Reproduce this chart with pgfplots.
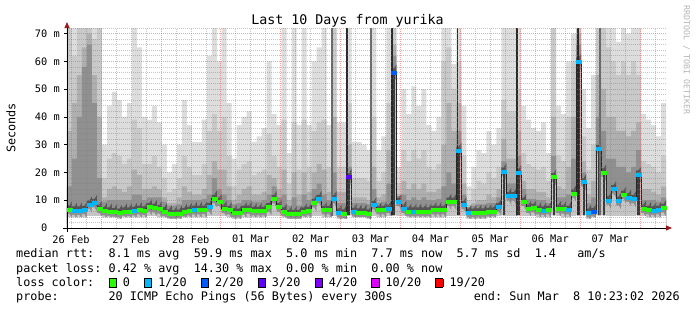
\documentclass[border=0pt]{standalone}
\usepackage{fontspec}
\setmainfont{DejaVu Sans Mono}
\usepackage{pgfplots}
\pgfplotsset{compat=1.18}
\usepackage{pgfplotstable}
\usetikzlibrary{arrows.meta}
\definecolor{lgreen}{HTML}{26FF00}
\definecolor{lcyan}{HTML}{00B8FF}
\definecolor{lblue}{HTML}{0059FF}
\definecolor{lpurple}{HTML}{5E00FF}
\definecolor{lviolet}{HTML}{7E00FF}
\definecolor{lmagenta}{HTML}{DD00FF}
\definecolor{lred}{HTML}{FF0000}
\definecolor{arrowred}{HTML}{9A1A1A}
\definecolor{gridred}{HTML}{F06060}
\definecolor{cA}{HTML}{DDDDDD}
\definecolor{cB}{HTML}{C9C9C9}
\definecolor{cC}{HTML}{AFAFAF}
\definecolor{cD}{HTML}{909090}
\definecolor{cDB}{HTML}{555555}
\definecolor{cB1}{HTML}{8F8F8F}
\definecolor{cB2}{HTML}{C5C5C5}
\definecolor{cSB}{HTML}{3A3A3A}
\definecolor{cSpkA}{HTML}{2A2A2A}
\definecolor{cSpkB}{HTML}{6A6A6A}
\definecolor{wmgray}{HTML}{B4B4B4}
\newcommand\legfont{\fontsize{11.8bp}{14bp}\selectfont}
\newcommand\titfont{\fontsize{13.3bp}{16bp}\selectfont}
\newcommand\axfont{\fontsize{10.3bp}{12bp}\selectfont}
\newcommand\wmfont{\fontsize{8.3bp}{10bp}\selectfont}
\newcommand\lbox[1]{\makebox[1.204em][l]{\setlength\fboxsep{0pt}\setlength\fboxrule{0.8bp}\raisebox{-0.5bp}{\fcolorbox{black}{#1}{\rule{0pt}{7.5bp}\rule{6.5bp}{0pt}}}}}

\pgfplotstableread{
i L1 L2 L3 L4 med lo sb loss
-1 72 72 35 15 6.7 3.8 0 g
0 72 72 35 15 6.7 3.8 0 g
1 72 62 45 25 6.3 3.8 0 c
2 72 72 55 40 6.3 3.8 0 c
3 72 72 65 58 6.5 3.8 0 c
4 72 72 70 66 8.5 4.3 0 c
5 72 68 55 45 9.0 4.3 0 c
6 72 72 40 18 7.0 4.3 0 g
7 30 18 11 9.5 6.2 3.8 0 g
8 44 25 14 10 6.0 3.8 0 g
9 49 27 15 10 5.7 3.8 0 g
10 46 26 14 10 5.5 3.3 0 g
11 40 23 13 10 6.0 3.8 0 g
12 45 25 15 10 6.0 3.8 0 g
13 72 39 21 12 6.2 3.8 0 c
14 65 36 19 12 6.5 3.8 0 g
15 40 23 14 10 6.3 3.8 0 g
16 39 23 14 11 7.5 4.3 0 g
17 44 26 15 11 7.2 4.3 0 g
18 38 22 14 11 6.8 3.8 0 g
19 30 18 11 9.5 6.0 3.8 0 g
20 20 13 9 8 5.3 3.3 0 g
21 23 14 9 8 5.0 3.3 0 g
22 30 18 11 8.5 5.2 3.3 0 g
23 46 26 15 10 5.8 3.8 0 g
24 37 22 13 10 6.2 3.8 0 g
25 31 19 12 10 6.5 3.8 0 c
26 31 19 12 10 6.5 3.8 0 g
27 39 23 14 10.5 6.6 3.8 0 g
28 62 35 19 12 7.5 4.3 0 c
29 72 41 24 18 10.5 4.3 0 g
30 60 35 21 14 9.5 4.3 0 g
31 72 40 21 12 7.0 4.3 0 g
32 45 26 15 10 6.5 3.8 0 g
33 25 15 10 8.5 5.5 3.3 0 g
34 37 21 12 9 5.5 3.3 0 g
35 40 23 14 10 6.5 3.8 0 g
36 42 24 15 10 6.7 3.8 0 g
37 31 19 12 9.5 6.2 3.8 0 g
38 33 20 12 9.5 6.2 3.8 0 g
39 36 21 13 10 6.2 3.8 0 g
40 60 34 19 12 7.5 4.3 0 g
41 41 26 18 15 10.5 4.3 0 g
42 37 22 14 11 7.5 4.3 0 g
43 72 39 21 12 6.0 3.8 0 g
44 27 16 10 8 5.0 3.3 0 g
45 72 38 20 11 5.0 3.3 0 g
46 37 21 12 8 5.0 3.3 0 g
47 72 39 20 12 6.0 3.8 0 g
48 37 22 13 10 6.2 3.8 0 g
49 60 35 20 14 9.0 4.3 0 g
50 65 38 23 16 10.5 4.3 0 c
51 72 39 21 12 6.5 3.8 0 g
52 37 22 13 10 6.5 3.8 0 g
53 72 72 40 20 10.5 4.3 0 c
54 38 22 13 9 5.5 3.3 0 c
55 38 22 13 9 5.3 3.3 0 g
56 72 45 30 22 18.3 4.5 18.3 p
57 31 18 11 9 5.8 3.8 0 c
58 31 18 11 9 5.6 3.8 0 g
59 30 18 11 9 5.6 3.8 0 g
60 28 17 10 8.5 5.3 3.3 0 g
61 72 40 22 14 8.3 4.3 0 c
62 28 17 11 9 6.5 3.8 0 g
63 33 20 12 9.5 6.5 3.8 0 g
64 72 45 28 16 7.0 4.3 0 c
65 72 72 66 62 56 4.5 56 b
66 22 16 12 11.5 9.5 4.3 0 c
67 50 28 17 12 7.0 4.3 0 c
68 41 24 14 10 6.0 3.8 0 g
69 51 28 16 11 6.0 3.8 0 c
70 44 25 14 10 6.0 3.8 0 g
71 50 28 16 11 6.0 3.8 0 g
72 37 22 13 10 6.0 3.8 0 g
73 35 21 13 10 6.5 3.8 0 g
74 40 23 14 10.5 6.5 3.8 0 g
75 72 60 30 15 6.5 3.8 0 g
76 72 65 45 20 9.5 4.3 0 g
77 59 50 35 16 9.5 4.3 0 g
78 72 60 45 35 27.9 4.5 27.9 c
79 44 26 16 12 8.3 4.3 0 c
80 15 10 7.5 7.5 5.5 3.3 0 c
81 22 14 9 8 5.5 3.3 0 g
82 28 17 10 8.5 5.6 3.3 0 g
83 27 16 10 8.5 5.6 3.3 0 g
84 35 20 12 9 5.8 3.8 0 g
85 30 18 11 9 6.0 3.8 0 g
86 36 22 14 11 7.5 4.3 0 c
87 72 46 32 24 20.4 4.5 20.4 c
88 72 42 25 16 11.5 4.3 0 c
89 72 42 25 16 11.5 4.3 0 c
90 72 50 35 26 19.9 4.5 19.9 c
91 44 27 17 14 9.5 4.3 0 g
92 39 23 14 10.5 7.0 4.3 0 g
93 36 22 14 10.5 7.2 4.3 0 g
94 35 21 13 10 6.5 3.8 0 g
95 38 22 13 10 6.3 3.8 0 c
96 27 17 11 9 6.5 3.8 0 g
97 72 72 40 26 18.3 4.5 18.3 g
98 44 26 15 11 7.0 4.3 0 g
99 41 24 14 11 6.8 3.8 0 g
100 60 40 22 12 6.5 3.8 0 c
101 70 60 40 25 12.5 4.3 0 g
102 72 72 70 66 59.9 4.5 59.9 c
103 50 33 24 20 16.5 4.5 16.5 c
104 36 21 12 9 5.5 3.3 0 c
105 55 30 17 11 5.8 3.8 0 b
106 72 72 55 40 28.5 4.5 28.5 c
107 72 72 50 35 20.0 4.5 20 g
108 72 65 40 25 10.0 4.3 0 c
109 72 60 40 25 14.0 4.3 0 c
110 67 55 35 22 9.8 4.3 0 c
111 72 60 35 22 12.0 4.3 0 g
112 70 55 33 20 11.0 4.3 0 c
113 72 60 35 22 10.5 4.3 0 c
114 72 55 38 28 19.3 4.5 19.3 c
115 41 24 14 10 7.0 4.3 0 g
116 39 23 14 10 6.5 3.8 0 g
117 37 22 13 10 6.3 3.8 0 c
118 33 20 12 9.5 6.5 3.8 0 c
119 45 26 15 11 7.2 4.3 0 g
120 45 26 15 11 7.2 4.3 0 g
}\data

\pgfplotstableread{
x top
52.6 72
60.4 72
106.3 72
}\spikesmid

\pgfplotstableread{
x top
55.6 72
64.6 72
77.7 72
89.7 72
101.9 72
}\spikesdark

\begin{document}
\frenchspacing
\begin{tikzpicture}
\useasboundingbox (0,0) rectangle (697bp,310bp);
\begin{axis}[
  at={(67bp,82bp)}, anchor=south west,
  scale only axis, width=599bp, height=200bp,
  xmin=-0.5, xmax=119.5, ymin=0, ymax=72,
  axis lines=left, axis on top,
  x axis line style={black, line width=0.8bp, shorten >=-6bp, shorten <=-4bp, -{Triangle[length=6bp,width=5bp,color=arrowred]}},
  y axis line style={black, line width=0.8bp, shorten >=-6bp, shorten <=-4bp, -{Triangle[length=6bp,width=5bp,color=arrowred]}},
  xtick={0.31,12.31,24.31,36.31,48.31,60.31,72.31,84.31,96.31,108.31},
  xticklabels={26 Feb,27 Feb,28 Feb,01 Mar,02 Mar,03 Mar,04 Mar,05 Mar,06 Mar,07 Mar},
  xtick style={draw=none},
  extra x ticks={6.31,18.31,30.31,42.31,54.31,66.31,78.31,90.31,102.31,114.31},
  extra x tick labels={},
  extra x tick style={grid=major},
  minor xtick={0.31,3.31,9.31,12.31,15.31,21.31,24.31,27.31,33.31,36.31,39.31,45.31,48.31,51.31,57.31,60.31,63.31,69.31,72.31,75.31,81.31,84.31,87.31,93.31,96.31,99.31,105.31,108.31,111.31,117.31},
  ytick={0,10,20,30,40,50,60,70},
  yticklabels={0\hphantom{ m},10 m,20 m,30 m,40 m,50 m,60 m,70 m},
  minor ytick={2,4,6,8,12,14,16,18,22,24,26,28,32,34,36,38,42,44,46,48,52,54,56,58,62,64,66,68,72},
  xmajorgrids=false, ymajorgrids=true, xminorgrids=true, yminorgrids=true,
  major grid style={draw=gridred, opacity=0.6, line width=0.6bp, dash pattern=on 1bp off 1bp},
  minor grid style={draw=gray, opacity=0.45, line width=0.6bp, dash pattern=on 1bp off 1bp},
  ytick style={black, line width=0.6bp},
  ytick align=outside, major tick length=3bp, minor tick length=0bp,
  ticklabel style={font=\axfont},
  xticklabel style={inner sep=0pt, anchor=north, yshift=-5.5bp},
  yticklabel style={inner sep=0pt, anchor=east, xshift=-4bp},
]
\addplot[const plot mark mid, fill=cA, draw=none] table[x=i,y=L1]{\data} \closedcycle;
\addplot[const plot mark mid, fill=cB, draw=none] table[x=i,y=L2]{\data} \closedcycle;
\addplot[const plot mark mid, fill=cC, draw=none] table[x=i,y=L3]{\data} \closedcycle;
\addplot[const plot mark mid, fill=cD, draw=none] table[x=i,y=L4]{\data} \closedcycle;
\addplot[const plot mark mid, fill=cDB, draw=none, yshift=4bp] table[x=i,y=med]{\data} \closedcycle;
\addplot[const plot mark mid, fill=cB1, draw=none, yshift=-1.5bp] table[x=i,y=med]{\data} \closedcycle;
\addplot[const plot mark mid, fill=cB2, draw=none, yshift=-4.5bp] table[x=i,y=med]{\data} \closedcycle;
\addplot[ycomb, draw=cSB, line width=2.2bp] table[x=i,y=sb]{\data};
\addplot[ycomb, draw=cSpkB, line width=1.6bp] table[x=x,y=top]{\spikesmid};
\addplot[ycomb, draw=cSpkA, line width=1.6bp] table[x=x,y=top]{\spikesdark};
\addplot[const plot mark mid, fill=white, draw=none] table[x=i,y=lo]{\data} \closedcycle;
\addplot[const plot mark mid, draw=black!85, line width=0.9bp] table[x=i,y=med]{\data};
\addplot[scatter, only marks, mark=square*, mark size=2.5bp, mark options={yscale=0.6},
  point meta=explicit symbolic, restrict x to domain=0:119,
  scatter/classes={g={lgreen}, c={lcyan}, b={lblue}, p={lpurple}}]
  table[x=i,y=med,meta=loss]{\data};
\end{axis}
\node[anchor=base, inner sep=0pt, font=\titfont] at (347.5bp,285bp) {Last 10 Days from yurika};
\node[rotate=90, inner sep=0pt, font=\legfont] at (11bp,182bp) {Seconds};
\node[rotate=-90, inner sep=0pt, font=\wmfont, text=wmgray] at (686.5bp,250bp) {RRDTOOL / TOBI OETIKER};
\node[anchor=base west, inner sep=0pt, font=\legfont] at (16bp,52bp) {median rtt:~~8.1 ms avg~~59.9 ms max~~5.0 ms min~~7.7 ms now~~5.7 ms sd~~1.4~~~am/s};
\node[anchor=base west, inner sep=0pt, font=\legfont] at (16bp,38bp) {packet loss: 0.42 \% avg~~14.30 \% max~~0.00 \% min~~0.00 \% now};
\node[anchor=base west, inner sep=0pt, font=\legfont] at (16bp,24bp) {loss color:~~\lbox{lgreen}0~~\lbox{lcyan}1/20~~\lbox{lblue}2/20~~\lbox{lpurple}3/20~~\lbox{lviolet}4/20~~\lbox{lmagenta}10/20~~\lbox{lred}19/20};
\node[anchor=base west, inner sep=0pt, font=\legfont] at (16bp,10bp) {probe:~~~~~~~20 ICMP Echo Pings (56 Bytes) every 300s};
\node[anchor=base east, inner sep=0pt, font=\legfont] at (680bp,10bp) {end: Sun Mar~~8 10:23:02 2026};
\end{tikzpicture}
\end{document}
